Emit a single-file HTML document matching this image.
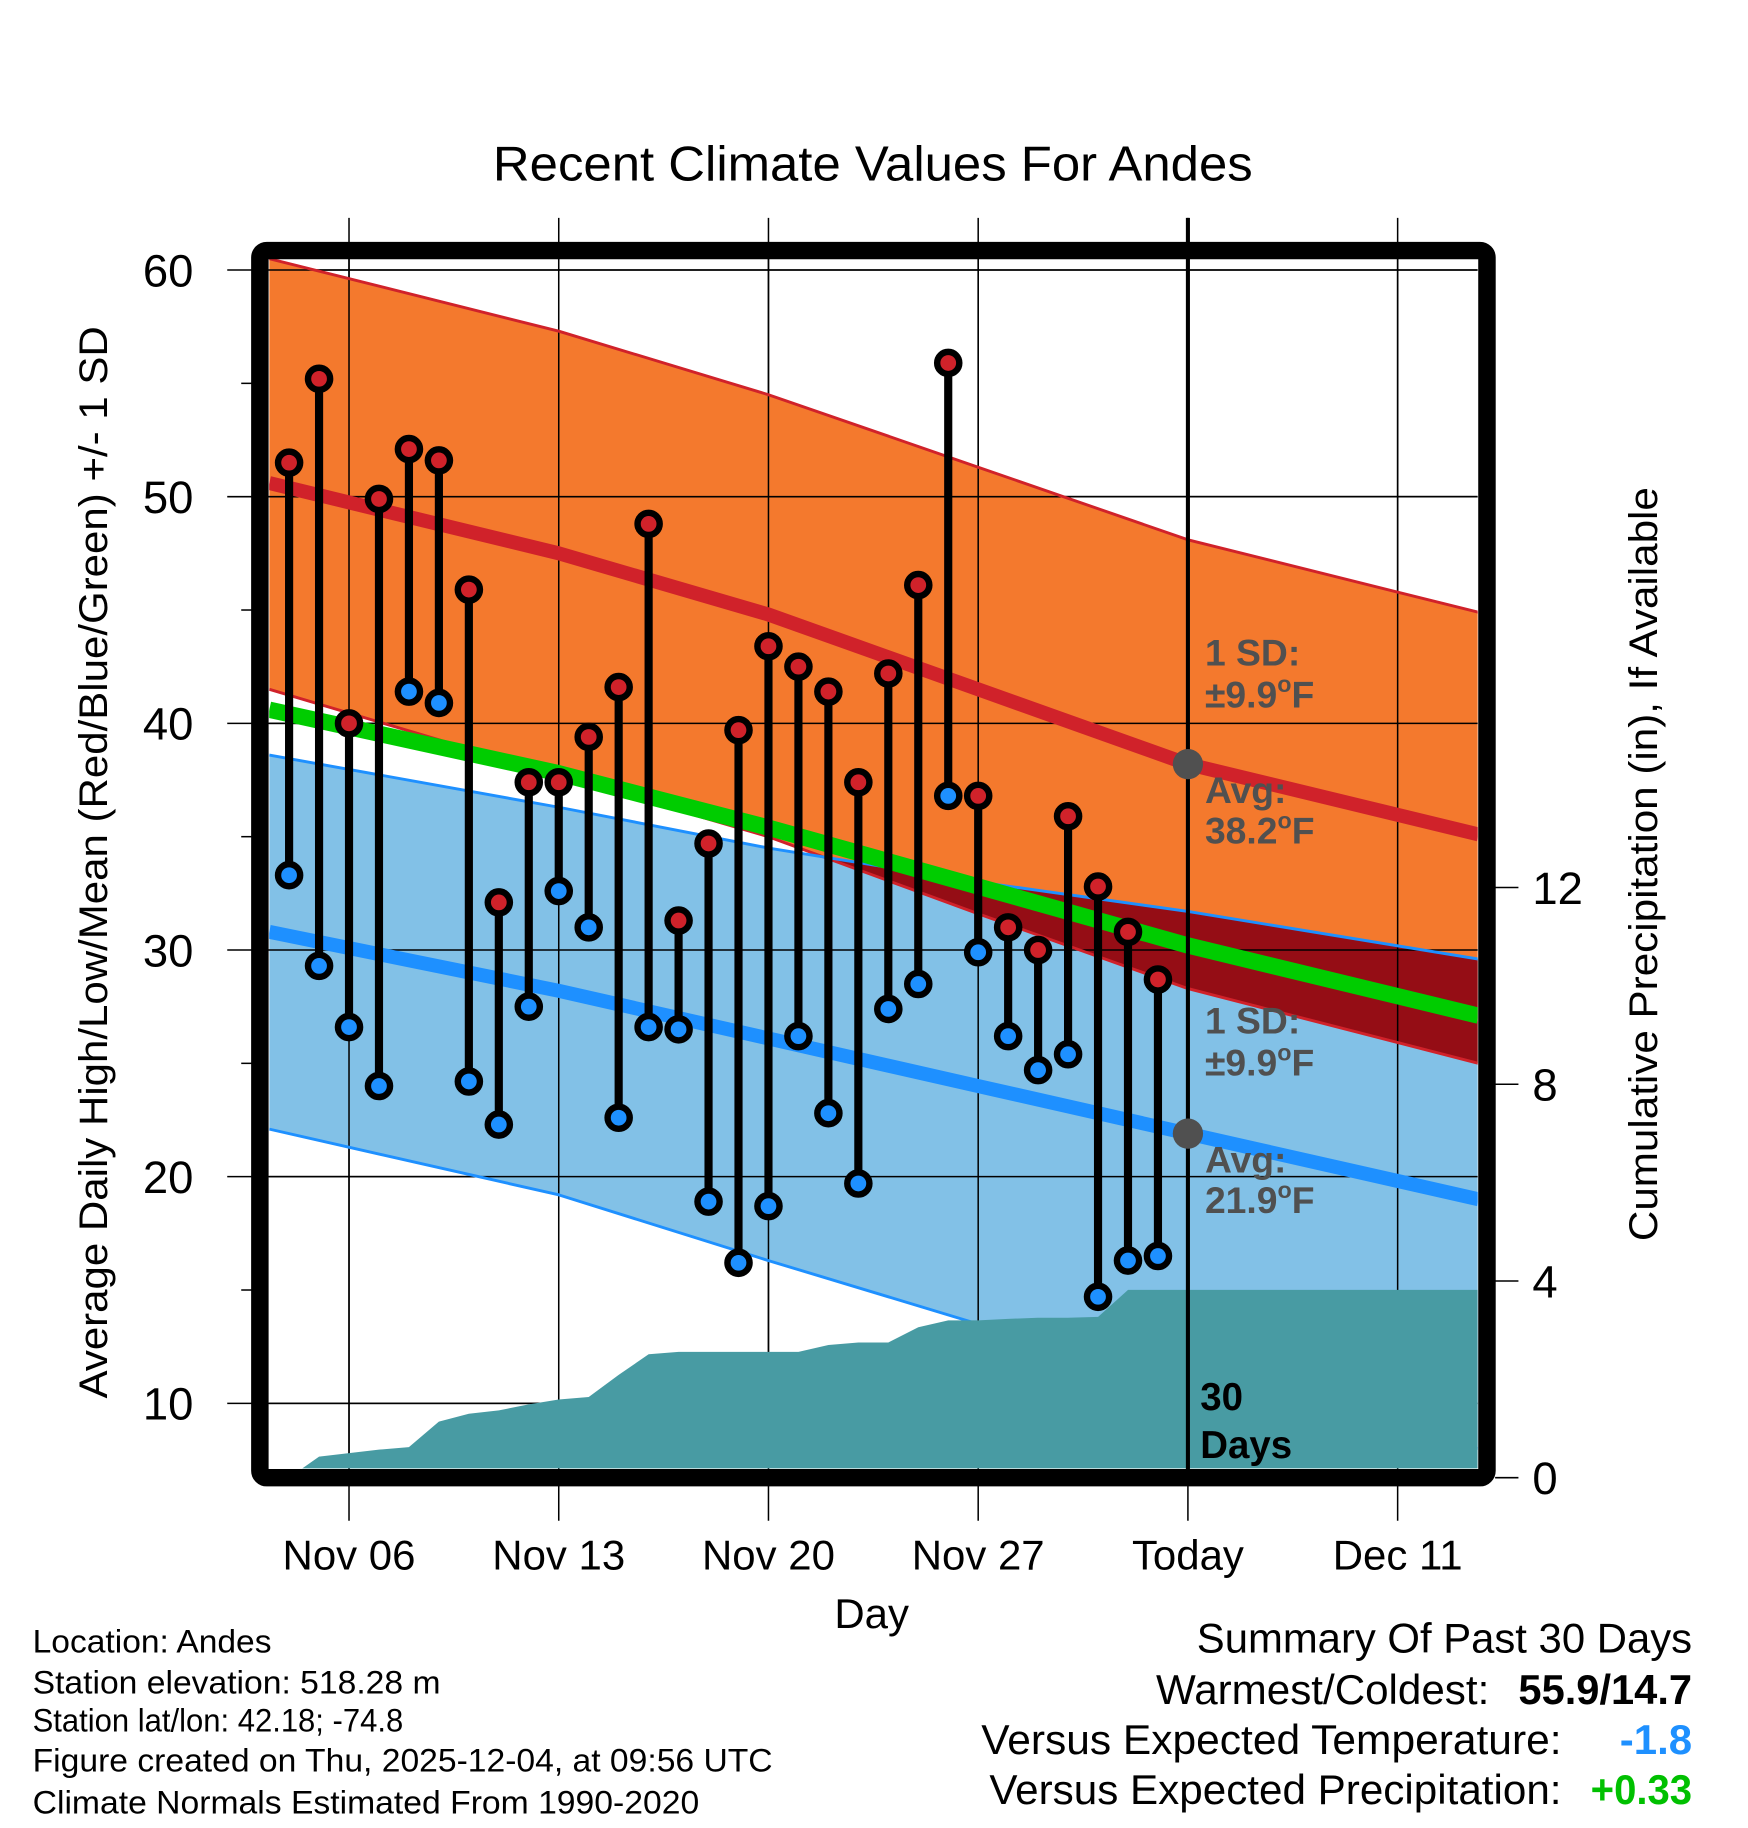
<!DOCTYPE html>
<html><head><meta charset="utf-8"><style>
html,body{margin:0;padding:0;background:#fff;}
svg{display:block;font-family:"Liberation Sans",Arial,sans-serif;}
</style></head><body>
<svg id="chart" width="1748" height="1828" viewBox="0 0 1500 1568.6" preserveAspectRatio="none" xmlns="http://www.w3.org/2000/svg">
<defs>
<clipPath id="plotClip"><rect x="231" y="222" width="1037" height="1038"/></clipPath>
<clipPath id="orangeClip"><polygon id="orangeClipPoly" points=""/></clipPath>
</defs>
<rect x="0" y="0" width="1500" height="1568.6" fill="#fff"/>
<text x="423" y="155" font-size="42" textLength="652" lengthAdjust="spacingAndGlyphs">Recent Climate Values For Andes</text>
<g id="grid"></g>
<g id="plot" clip-path="url(#plotClip)"></g>
<g id="over"></g>
<rect x="223" y="215" width="1053" height="1053" rx="6" fill="none" stroke="#000" stroke-width="15"/>
<g id="axes"></g>
<text transform="translate(92,1200) rotate(-90)" font-size="34" textLength="920" lengthAdjust="spacingAndGlyphs">Average Daily High/Low/Mean (Red/Blue/Green) +/- 1 SD</text>
<text transform="translate(1422,1065) rotate(-90)" font-size="34" textLength="647" lengthAdjust="spacingAndGlyphs">Cumulative Precipitation (in), If Available</text>
<text x="748" y="1397" font-size="36" text-anchor="middle">Day</text>
<g font-size="28">
<text x="28" y="1418" textLength="205" lengthAdjust="spacingAndGlyphs">Location: Andes</text>
<text x="28" y="1453" textLength="350" lengthAdjust="spacingAndGlyphs">Station elevation: 518.28 m</text>
<text x="28" y="1486" textLength="318" lengthAdjust="spacingAndGlyphs">Station lat/lon: 42.18; -74.8</text>
<text x="28" y="1520" textLength="635" lengthAdjust="spacingAndGlyphs">Figure created on Thu, 2025-12-04, at 09:56 UTC</text>
<text x="28" y="1556" textLength="572" lengthAdjust="spacingAndGlyphs">Climate Normals Estimated From 1990-2020</text>
</g>
<g font-size="36">
<text x="1027" y="1418" textLength="425" lengthAdjust="spacingAndGlyphs">Summary Of Past 30 Days</text>
<text x="992" y="1462" textLength="286" lengthAdjust="spacingAndGlyphs">Warmest/Coldest:</text>
<text x="1303" y="1462" font-weight="bold" textLength="149" lengthAdjust="spacingAndGlyphs">55.9/14.7</text>
<text x="842" y="1505" textLength="498" lengthAdjust="spacingAndGlyphs">Versus Expected Temperature:</text>
<text x="1390" y="1505" font-weight="bold" fill="#1e90ff" textLength="62" lengthAdjust="spacingAndGlyphs">-1.8</text>
<text x="849" y="1548" textLength="491" lengthAdjust="spacingAndGlyphs">Versus Expected Precipitation:</text>
<text x="1365" y="1548" font-weight="bold" fill="#00c000" textLength="87" lengthAdjust="spacingAndGlyphs">+0.33</text>
</g>
</svg>
<script>
// ---- data ----
const dayLabels = ["Nov 06","Nov 13","Nov 20","Nov 27","Today","Dec 11"];
const dayTicks = [0,7,14,21,28,35];
const obsDays = [-2,-1,0,1,2,3,4,5,6,7,8,9,10,11,12,13,14,15,16,17,18,19,20,21,22,23,24,25,26,27];
const highs = [51.5,55.2,40.0,49.9,52.1,51.6,45.9,32.1,37.4,37.4,39.4,41.6,48.8,31.3,34.7,39.7,43.4,42.5,41.4,37.4,42.2,46.1,55.9,36.8,31.0,30.0,35.9,32.8,30.8,28.7];
const lows = [33.3,29.3,26.6,24.0,41.4,40.9,24.2,22.3,27.5,32.6,31.0,22.6,26.6,26.5,18.9,16.2,18.7,26.2,22.8,19.7,27.4,28.5,36.8,29.9,26.2,24.7,25.4,14.7,16.3,16.5];
const precip = [0.0,0.43,0.5,0.57,0.62,1.14,1.3,1.37,1.49,1.59,1.64,2.09,2.51,2.56,2.56,2.56,2.56,2.56,2.7,2.75,2.75,3.06,3.2,3.2,3.23,3.25,3.25,3.27,3.82,3.82];
const normDays = [-2.66,7,14,21,28,37.7];
const normHigh = [50.6,47.5,44.8,41.5,38.2,35.1];
const normHighUp = [60.5,57.3,54.5,51.3,48.1,44.9];
const normHighLo = [41.5,37.7,35.0,31.6,28.3,25.0];
const normLow = [30.8,28.2,26.1,24.0,21.9,19.0];
const normLowUp = [38.6,36.3,34.5,33.0,31.7,29.6];
const normLowLo = [22.1,19.2,16.3,13.5,11.0,8.0];
const normMean = [40.6,37.8,35.4,32.8,30.2,27.1];
const tempTicks = [10,20,30,40,50,60];
const minorTicks = [15,25,35,45,55];
const precipTicks = [0,4,8,12];
const todayDay = 28;
const todayHigh = 38.2, todayLow = 21.9;

// ---- axes ----
const X = d => 299.5 + 25.71*d;
const Y = t => 231.7 + (60 - t)*19.45;
const P = p => 1268 - p*42.2;
const NS = "http://www.w3.org/2000/svg";
function mk(tag, attrs, parent){const e=document.createElementNS(NS,tag);for(const k in attrs)e.setAttribute(k,attrs[k]);parent.appendChild(e);return e;}
const grid=document.getElementById('grid'), plot=document.getElementById('plot'), over=document.getElementById('over'), axes=document.getElementById('axes');
const pts=(ds,vs,f)=>ds.map((d,i)=>X(d).toFixed(1)+','+f(vs[i]).toFixed(1));
function band(up,lo){return pts(normDays,up,Y).join(' ')+' '+pts(normDays,lo,Y).reverse().join(' ');}

let e;
e=mk('polygon',{points:band(normLowUp,normLowLo),fill:'#82c1e7'},plot);


e=mk('polygon',{points:band(normHighUp,normHighLo),fill:'#f4792d'},plot);


document.getElementById('orangeClipPoly').setAttribute('points',band(normHighUp,normHighLo));
e=mk('polygon',{points:band(normLowUp,normLowLo),fill:'#950d15','clip-path':'url(#orangeClip)'},plot);



tempTicks.forEach(t=>{e=mk('line',{x1:195,x2:1268,y1:Y(t),y2:Y(t),stroke:'#000','stroke-width':1.3},grid);

});
dayTicks.forEach(d=>{e=mk('line',{x1:X(d),x2:X(d),y1:187,y2:1305,stroke:'#000','stroke-width':1.3},grid);

});
tempTicks.forEach(t=>{mk('line',{x1:195,x2:1268,y1:Y(t),y2:Y(t),stroke:'#000','stroke-width':1.3},plot);});
dayTicks.forEach(d=>{mk('line',{x1:X(d),x2:X(d),y1:187,y2:1305,stroke:'#000','stroke-width':1.3},plot);});

function line(ds,vs,col,w,name){const el=mk('polyline',{points:pts(ds,vs,Y).join(' '),fill:'none',stroke:col,'stroke-width':w,'stroke-linejoin':'round'},plot);

}
line(normDays,normHighUp,'#d0222a',2.5,'high-upper-sd-line');
line(normDays,normHighLo,'#d0222a',2.5,'high-lower-sd-line');
line(normDays,normLowUp,'#1e90ff',2.5,'low-upper-sd-line');
line(normDays,normLowLo,'#1e90ff',2.5,'low-lower-sd-line');
line(normDays,normMean,'#00cc00',14,'mean-line');
line(normDays,normHigh,'#d0222a',12,'avg-high-line');
line(normDays,normLow,'#1e90ff',12,'avg-low-line');

let pp=obsDays.map((d,i)=>X(d).toFixed(1)+','+P(precip[i]).toFixed(1));
pp.push('1268,'+P(precip[precip.length-1]).toFixed(1));
pp.push('1268,1268');pp.push(X(obsDays[0]).toFixed(1)+',1268');
e=mk('polygon',{points:pp.join(' '),fill:'#489ba3'},plot);



e=mk('line',{x1:X(todayDay),x2:X(todayDay),y1:187,y2:1268,stroke:'#000','stroke-width':3.5},over);


[todayHigh,todayLow].forEach(v=>{e=mk('circle',{cx:X(todayDay),cy:Y(v),r:13,fill:'#505050'},over);

});
function lab(x,y,txt,name,sup){const t=mk('text',{x:x,y:y,'font-size':32,'font-weight':'bold',fill:'#505050'},over);


if(sup){t.appendChild(document.createTextNode(txt));const s=mk('tspan',{dy:-13,'font-size':20},t);s.textContent='o';const f=mk('tspan',{dy:13},t);f.textContent='F';}else t.textContent=txt;}
lab(1034,571,'1 SD:','high-sd-label');
lab(1034,607,'±9.9','high-sd-value',true);
lab(1034,689,'Avg:','high-avg-label');
lab(1034,724,todayHigh.toFixed(1),'high-avg-value',true);
lab(1034,887,'1 SD:','low-sd-label');
lab(1034,923,'±9.9','low-sd-value',true);
lab(1034,1006,'Avg:','low-avg-label');
lab(1034,1041,todayLow.toFixed(1),'low-avg-value',true);
e=mk('text',{x:1030,y:1210,'font-size':33,'font-weight':'bold'},over);e.textContent='30';


e=mk('text',{x:1030,y:1251,'font-size':33,'font-weight':'bold'},over);e.textContent='Days';



obsDays.forEach((d,i)=>{
  e=mk('line',{x1:X(d),x2:X(d),y1:Y(highs[i]),y2:Y(lows[i]),stroke:'#000','stroke-width':7},over);
  
  
});
obsDays.forEach((d,i)=>{
  e=mk('ellipse',{cx:X(d),cy:Y(highs[i]),rx:9.5,ry:9.5,fill:'#d0222a',stroke:'#000','stroke-width':5.5},over);
  
  
  e=mk('ellipse',{cx:X(d),cy:Y(lows[i]),rx:9.5,ry:9.5,fill:'#1e90ff',stroke:'#000','stroke-width':5.5},over);
  
  
});

tempTicks.forEach(t=>{
  e=mk('text',{x:166,y:Y(t)+14,'font-size':39,'text-anchor':'end'},axes);e.textContent=t;
  
  
});
minorTicks.forEach(t=>{mk('line',{x1:207,x2:218,y1:Y(t),y2:Y(t),stroke:'#000','stroke-width':1.3},axes);});
precipTicks.forEach(p=>{
  mk('line',{x1:1283,x2:1303,y1:P(p),y2:P(p),stroke:'#000','stroke-width':1.3},axes);
  e=mk('text',{x:1315,y:P(p)+14,'font-size':39},axes);e.textContent=p;
  
  
});
dayTicks.forEach((d,i)=>{
  e=mk('text',{x:X(d),y:1347,'font-size':36,'text-anchor':'middle'},axes);e.textContent=dayLabels[i];
  
  
});
</script>
</body></html>
